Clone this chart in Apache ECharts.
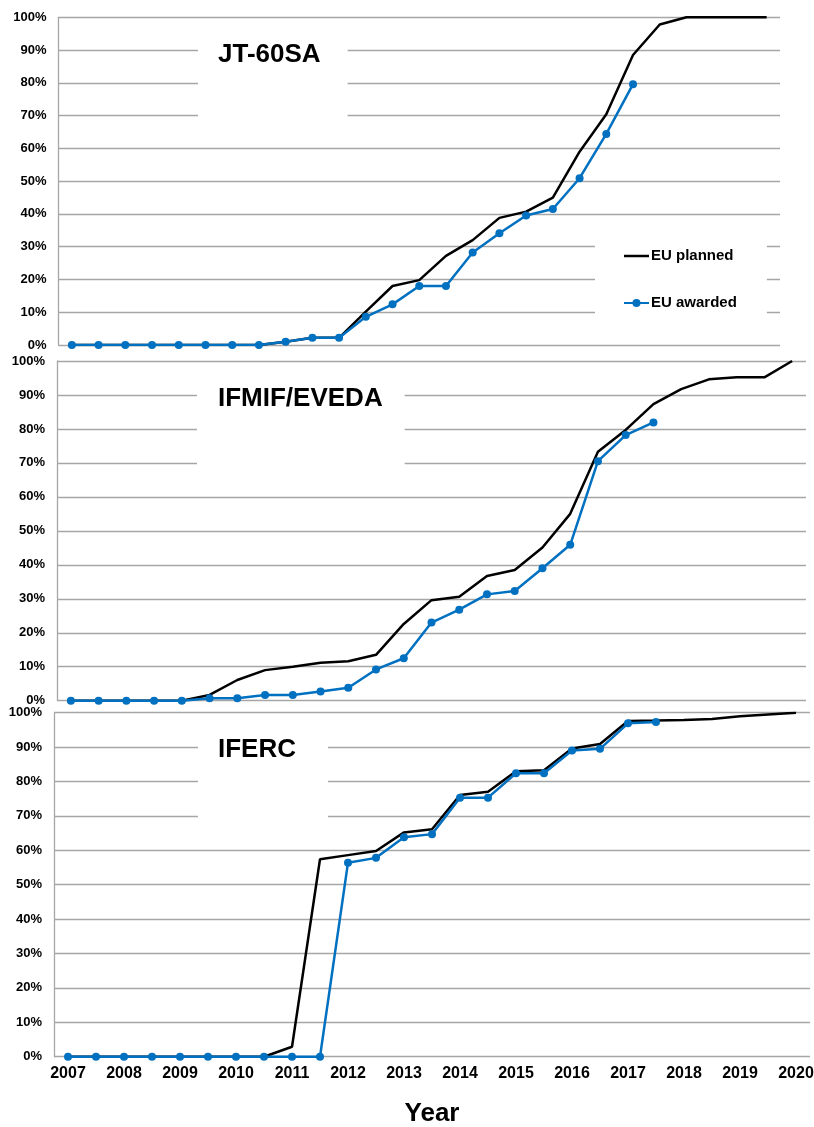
<!DOCTYPE html>
<html>
<head>
<meta charset="utf-8">
<script src="https://cdn.jsdelivr.net/npm/echarts@6/dist/echarts.min.js"></script>
<style>
  html, body { margin: 0; padding: 0; background: #fff; }
  #main { width: 814px; height: 1127px; }
</style>
</head>
<body>
<div id="main"></div>
<script>
// half-year periods, 2007 .. 2020
var periods = ['2007','2007.5','2008','2008.5','2009','2009.5','2010','2010.5','2011','2011.5',
               '2012','2012.5','2013','2013.5','2014','2014.5','2015','2015.5','2016','2016.5',
               '2017','2017.5','2018','2018.5','2019','2019.5','2020'];

var jtPlanned  = [0,0,0,0,0,0,0,0,1,2.2,2.2,10.2,18,19.8,27.2,32,38.8,40.7,45,59,70.4,88.5,97.8,100,100,100,100];
var jtAwarded  = [0,0,0,0,0,0,0,0,1,2.2,2.2,8.6,12.4,18,18,28.2,34.1,39.5,41.5,50.9,64.4,79.6,null,null,null,null,null];

var ifmifPlanned = [0,0,0,0,0,1.7,6.1,9,10,11.2,11.6,13.5,22.6,29.6,30.6,36.7,38.5,45.1,55,73.3,79.7,87.3,91.7,94.6,95.2,95.2,100];
var ifmifAwarded = [0,0,0,0,0,0.7,0.7,1.7,1.7,2.7,3.8,9.2,12.5,23,26.8,31.3,32.3,39,45.9,70.5,78.2,81.9,null,null,null,null,null];

var ifercPlanned = [0,0,0,0,0,0,0,0,2.9,57.4,58.6,59.8,65.2,66.1,76.1,77,83,83.3,89.6,90.9,97.6,97.7,97.9,98.2,99,99.5,100];
var ifercAwarded = [0,0,0,0,0,0,0,0,0,0,56.4,57.8,63.8,64.7,75.3,75.3,82.4,82.4,89,89.5,96.9,97.3,null,null,null,null,null];

var panelNames = ['JT-60SA', 'IFMIF/EVEDA', 'IFERC'];

var FONT = '"Liberation Sans", Arial, sans-serif';
var BLUE = '#0070C0';
var GRID_GRAY = '#a6a6a6';

var grids = [
    { left: 58.5, right: 34, top: 17.3, height: 327.7, outerBoundsMode: 'none', containLabel: false },
    { left: 57, right: 8, top: 361, height: 339.7, outerBoundsMode: 'none', containLabel: false },
    { left: 54, right: 4, top: 712.7, height: 344, outerBoundsMode: 'none', containLabel: false }
];

var xAxes = [], yAxes = [];
for (var i = 0; i < 3; i++) {
    var last = (i == 2);
    xAxes.push({
        type: 'category',
        gridIndex: i,
        data: periods,
        boundaryGap: true,
        axisLine: { show: false },
        axisTick: { show: false },
        axisLabel: {
            show: last,
            interval: 1,
            margin: 9,
            color: '#000',
            fontFamily: FONT,
            fontWeight: 'bold',
            fontSize: 16
        },
        name: last ? 'Year' : '',
        nameLocation: 'middle',
        nameGap: 44,
        nameMoveOverlap: false,
        nameTextStyle: { color: '#000', fontFamily: FONT, fontWeight: 'bold', fontSize: 26 }
    });
    yAxes.push({
        type: 'value',
        gridIndex: i,
        min: 0,
        max: 100,
        interval: 10,
        axisLine: { show: true, lineStyle: { color: GRID_GRAY, width: 1.3 } },
        axisTick: { show: false },
        splitLine: { show: true, lineStyle: { color: GRID_GRAY, width: 1.3 } },
        axisLabel: {
            formatter: '{value}%',
            margin: 12,
            color: '#000',
            fontFamily: FONT,
            fontWeight: 'bold',
            fontSize: 13
        }
    });
}

function plannedSeries(idx, data) {
    return {
        name: 'EU planned',
        type: 'line',
        xAxisIndex: idx,
        yAxisIndex: idx,
        data: data,
        symbol: 'none',
        lineStyle: { color: '#000', width: 2.5 },
        itemStyle: { color: '#000' },
        animation: false
    };
}
function awardedSeries(idx, data) {
    return {
        name: 'EU awarded',
        type: 'line',
        xAxisIndex: idx,
        yAxisIndex: idx,
        data: data,
        symbol: 'circle',
        symbolSize: 8,
        lineStyle: { color: BLUE, width: 2.5 },
        itemStyle: { color: BLUE },
        animation: false
    };
}

var titleStyle = { color: '#000', fontFamily: FONT, fontWeight: 'bold', fontSize: 26, lineHeight: 30 };

var option = {
    backgroundColor: '#fff',
    animation: false,
    title: [
        { text: panelNames[0], left: 198, top: 31.5, padding: [8, 27, 58, 20], backgroundColor: '#fff', textStyle: titleStyle },
        { text: panelNames[1], left: 197, top: 376, padding: [8, 22, 58, 21], backgroundColor: '#fff', textStyle: titleStyle },
        { text: panelNames[2], left: 198, top: 726.7, padding: [8, 32, 58, 20], backgroundColor: '#fff', textStyle: titleStyle }
    ],
    legend: {
        data: [
            { name: 'EU planned', icon: 'path://M0,0 L25,0 L25,2.5 L0,2.5 Z', itemStyle: { color: '#000' } },
            { name: 'EU awarded' }
        ],
        orient: 'vertical',
        left: 595,
        top: 232,
        padding: [15, 30, 13, 28],
        backgroundColor: '#fff',
        itemWidth: 25,
        itemHeight: 10,
        itemGap: 29,
        textStyle: { color: '#000', fontFamily: FONT, fontWeight: 'bold', fontSize: 15, lineHeight: 18, padding: [0, 0, 0, -3] }
    },
    grid: grids,
    xAxis: xAxes,
    yAxis: yAxes,
    series: [
        plannedSeries(0, jtPlanned), awardedSeries(0, jtAwarded),
        plannedSeries(1, ifmifPlanned), awardedSeries(1, ifmifAwarded),
        plannedSeries(2, ifercPlanned), awardedSeries(2, ifercAwarded)
    ]
};

var myChart = echarts.init(document.getElementById('main'));
myChart.setOption(option);
</script>
</body>
</html>
